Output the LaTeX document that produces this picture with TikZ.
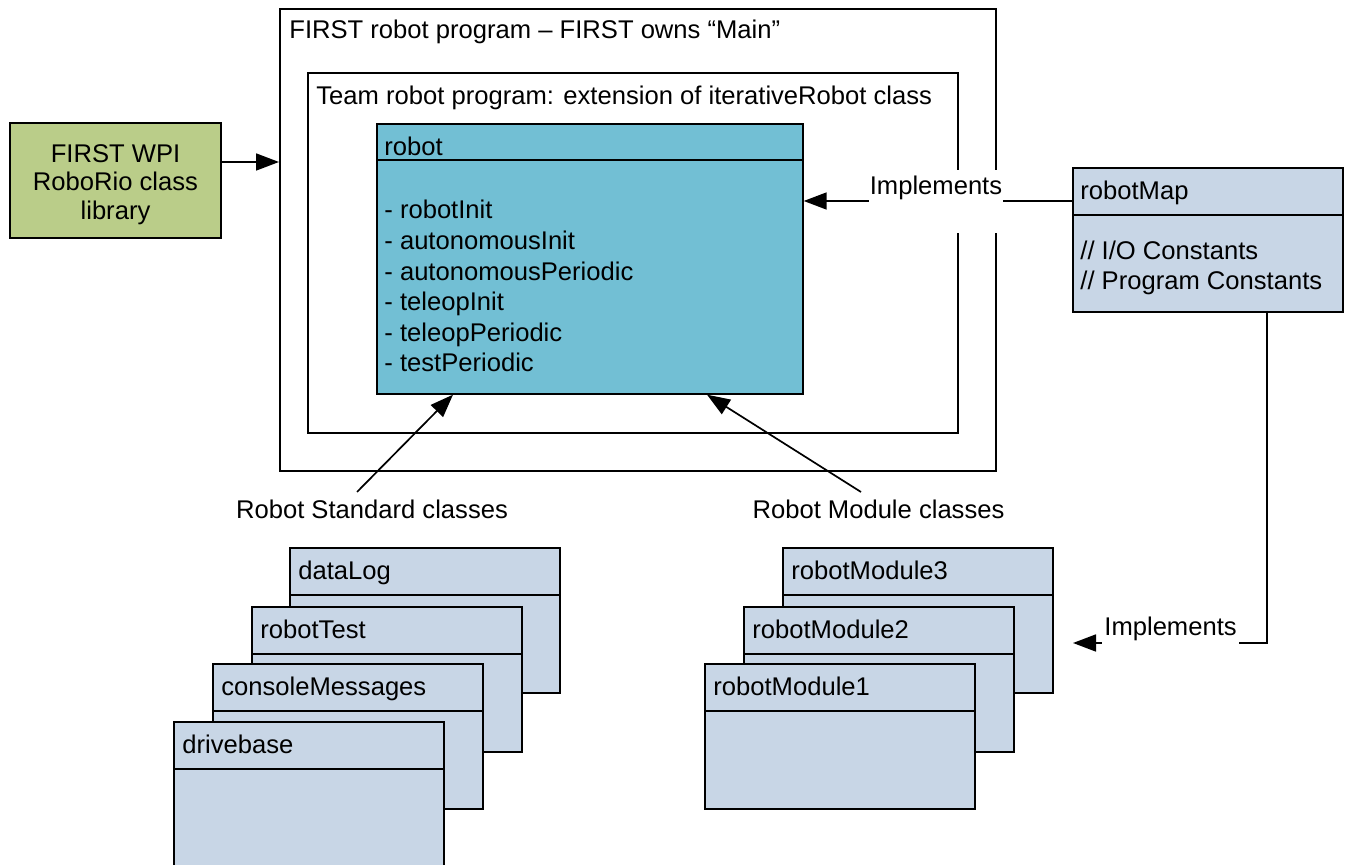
\documentclass[tikz,border=0pt]{standalone}
\usepackage{fontspec}
\setmainfont{Liberation Sans}
\usetikzlibrary{arrows.meta,calc}
\definecolor{clsblue}{RGB}{200,214,230}
\definecolor{robotteal}{RGB}{114,191,212}
\definecolor{wpigreen}{RGB}{186,205,137}
\tikzset{
  lw/.style={line width=0.85pt},
  framebox/.style={draw, lw, anchor=north west, inner sep=0},
  cls/.style={draw, lw, fill=clsblue, anchor=north west, inner sep=0, minimum width=135pt, minimum height=72.5pt},
  txt/.style={anchor=base west, inner sep=0},
  arr/.style={lw, -{Triangle[length=11.5pt,width=8.5pt]}},
  every node/.style={font=\fontsize{12.8pt}{15.4pt}\selectfont},
}
\newcommand{\clsbox}[4]{% name, x, y, label
  \node[cls] (#1) at (#2,#3) {};
  \draw[lw] ($(#1.north west)+(0,48)$) -- ($(#1.north east)+(0,48)$);
  \node[txt] (#1lbl) at ($(#1.north west)+(9,33)$) {#4};
}
\begin{document}
\begin{tikzpicture}[x=0.5pt,y=-0.5pt]
\useasboundingbox (0,0) rectangle (1346,865);
% outer and inner frames
\node[framebox, minimum width=358pt, minimum height=231pt] (outer) at (279,8) {};
\node[txt] (outerlbl) at (289,39) {FIRST robot program – FIRST owns “Main”};
\node[framebox, minimum width=325pt, minimum height=180pt] (inner) at (307,72) {};
\node[txt] (innerlbl) at (316,105) {Team robot program: extension of iterativeRobot class};
% robot class
\node[framebox, fill=robotteal, minimum width=213pt, minimum height=135pt] (robot) at (376,123) {};
\draw[lw] ($(robot.north west)+(0,37)$) -- ($(robot.north east)+(0,37)$);
\node[txt] (robotlbl) at (384,156) {robot};
\node[txt] (m1) at (384,219) {- robotInit};
\node[txt] (m2) at (384,249.6) {- autonomousInit};
\node[txt] (m3) at (384,280.2) {- autonomousPeriodic};
\node[txt] (m4) at (384,310.8) {- teleopInit};
\node[txt] (m5) at (384,341.4) {- teleopPeriodic};
\node[txt] (m6) at (384,372) {- testPeriodic};
% WPI library
\node[draw, lw, fill=wpigreen, minimum width=105.5pt, minimum height=57.5pt,
      label={[align=center, yshift=-2pt, font=\fontsize{12.8pt}{14.3pt}\selectfont]center:FIRST WPI\\RoboRio class\\library}] (wpi) at (115.5,180.5) {};
\coordinate (wpiy) at (0,162);
\draw[arr] (wpi.east |- wpiy) -- (outer.west |- wpiy);
% robotMap
\node[framebox, fill=clsblue, minimum width=135pt, minimum height=72pt] (map) at (1072,167) {};
\draw[lw] ($(map.north west)+(0,48)$) -- ($(map.north east)+(0,48)$);
\node[txt] (maplbl) at (1080,200) {robotMap};
\node[txt] (mapc1) at (1080,260) {// I/O Constants};
\node[txt] (mapc2) at (1080,290) {// Program Constants};
% top Implements
\coordinate (impy) at (0,201);
\draw[arr] (map.west |- impy) -- (robot.east |- impy);
\node[anchor=north, fill=white, inner xsep=0, inner ysep=0, minimum width=67pt,
      text height=12pt, text depth=19.5pt] (imp1) at (936,170) {Implements};
% bottom Implements
\coordinate (mapdrop) at (1267,311);
\coordinate (imptip) at (1073,643);
\draw[arr] (mapdrop) |- (imptip);
\node[anchor=base west, fill=white, inner xsep=1pt, inner ysep=0, text depth=5pt] (imp2) at (1102,636) {Implements};
% class group labels
\node[anchor=base] (stdlbl) at (372,519) {Robot Standard classes};
\node[anchor=base] (modlbl) at (878.5,519) {Robot Module classes};
\coordinate (stdtail) at (357,492);
\coordinate (modtail) at (861,492);
\draw[arr] (stdtail) -- (robot.south -| 453,0);
\draw[arr] (modtail) -- (robot.south -| 707,0);
% standard classes stack
\clsbox{datalog}{289}{547}{dataLog}
\clsbox{robottest}{251}{606}{robotTest}
\clsbox{console}{212}{663}{consoleMessages}
\clsbox{drivebase}{173}{721}{drivebase}
% module classes stack
\clsbox{module3}{782}{547}{robotModule3}
\clsbox{module2}{743}{606}{robotModule2}
\clsbox{module1}{704}{663}{robotModule1}
\end{tikzpicture}
\end{document}
